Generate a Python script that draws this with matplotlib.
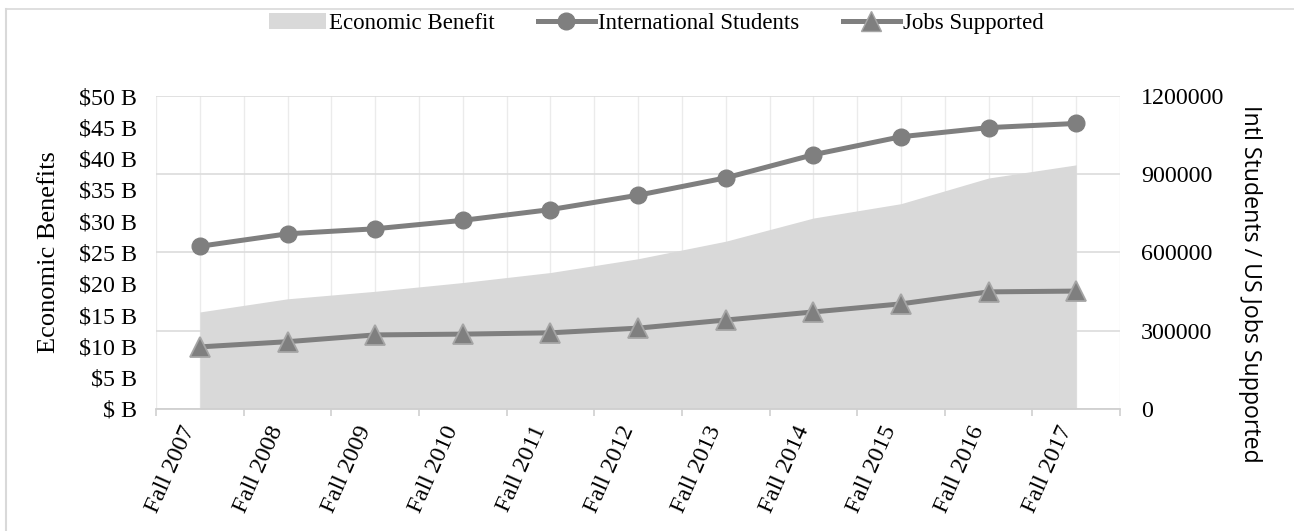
import matplotlib
matplotlib.use("Agg")
import matplotlib.pyplot as plt
import matplotlib.transforms as mtransforms
from matplotlib.lines import Line2D
from matplotlib.patches import Patch
import numpy as np

years = ['Fall 2007', 'Fall 2008', 'Fall 2009', 'Fall 2010', 'Fall 2011', 'Fall 2012',
         'Fall 2013', 'Fall 2014', 'Fall 2015', 'Fall 2016', 'Fall 2017']
econ_benefit = [15.5, 17.6, 18.8, 20.2, 21.8, 24.0, 26.8, 30.5, 32.8, 36.9, 39.0]  # $ billions
intl_students = [623805, 671616, 690923, 723277, 764495, 819644, 886052, 974926, 1043839, 1078822, 1094792]
jobs_supported = [238000, 258000, 284000, 287000, 292000, 310000, 341000, 372000, 403000, 449000, 452000]

econ_ticks = [0, 5, 10, 15, 20, 25, 30, 35, 40, 45, 50]
econ_labels = ['$ B', '$5 B', '$10 B', '$15 B', '$20 B', '$25 B', '$30 B', '$35 B', '$40 B', '$45 B', '$50 B']
count_ticks = [0, 300000, 600000, 900000, 1200000]
count_labels = ['0', '300000', '600000', '900000', '1200000']

serif = 'Liberation Serif'
dark = '#7f7f7f'
fill_c = '#d9d9d9'
fs = 17.3

fig = plt.figure(figsize=(12.94, 5.31), dpi=100)
ax = fig.add_axes([0.1206, 0.2298, 0.745, 0.5894])
ax2 = ax.twinx()

x = np.arange(len(years))
ax.set_xlim(-0.5, len(years) - 0.5)
ax.set_ylim(0, 50)
ax2.set_ylim(0, 1200000)

# light grid: vertical lines at every half category, horizontal at the right-axis ticks
for gx in np.arange(-0.5, len(years), 0.5):
    ax.axvline(gx, color='#ebebeb', lw=1, zorder=0)
for t in count_ticks:
    ax.axhline(t / count_ticks[-1] * econ_ticks[-1], color='#dcdcdc', lw=1.2, zorder=0)

ax.fill_between(x, econ_benefit, 0, color=fill_c, lw=0, zorder=1)

ax2.plot(x, intl_students, color=dark, lw=3.6, marker='o', ms=12,
         markerfacecolor=dark, markeredgecolor=dark, zorder=3)
ax2.plot(x, jobs_supported, color=dark, lw=3.6, marker='^', ms=15,
         markerfacecolor=dark, markeredgecolor='#a5a5a5', markeredgewidth=1.3, zorder=3)

for a in (ax, ax2):
    for s in a.spines.values():
        s.set_visible(False)
ax.spines['bottom'].set_visible(True)
ax.spines['bottom'].set_color('#d0d0d0')
ax.spines['bottom'].set_linewidth(1.3)

ax.set_xticks(x)
ax.set_xticklabels(years, rotation=66, ha='right', va='center',
                   rotation_mode='anchor', fontfamily=serif, fontsize=17.6)
ax.set_xticks(np.arange(-0.5, len(years), 1), minor=True)
ax.tick_params(axis='x', which='major', length=0, pad=13)
ax.tick_params(axis='x', which='minor', length=5, color='#d0d0d0', width=1.2)
shift = mtransforms.ScaledTranslation(-7 / 72, 0, fig.dpi_scale_trans)
for lbl in ax.get_xticklabels():
    lbl.set_transform(lbl.get_transform() + shift)

ax.set_yticks(econ_ticks)
ax.set_yticklabels(econ_labels, fontfamily=serif, fontsize=fs)
ax.tick_params(axis='y', length=0, pad=14)

ax2.set_yticks(count_ticks)
ax2.set_yticklabels(count_labels, fontfamily=serif, fontsize=fs)
ax2.tick_params(axis='y', length=0, pad=15)

ax.set_ylabel('Economic Benefits', fontfamily=serif, fontsize=19)
ax.yaxis.set_label_coords(-0.0996, 0.50)
ax2.set_ylabel('Intl Students / US Jobs Supported', fontfamily='Open Sans',
               fontsize=16.7, rotation=-90, va='center')
ax2.yaxis.set_label_coords(1.135, 0.40)

handles = [
    Patch(facecolor=fill_c, edgecolor='none'),
    Line2D([], [], color=dark, lw=3.6, marker='o', ms=12, markeredgecolor=dark),
    Line2D([], [], color=dark, lw=3.6, marker='^', ms=14, markeredgecolor='#a5a5a5'),
]
fig.legend(handles, ['Economic Benefit', 'International Students', 'Jobs Supported'],
           loc='center', bbox_to_anchor=(0.507, 0.955), ncol=3, frameon=False,
           prop={'family': serif, 'size': 16.5}, handlelength=2.5,
           columnspacing=1.9, handletextpad=0.12)

# outer frame
fig.add_artist(Line2D([0.0045, 1], [0.983, 0.983], transform=fig.transFigure, color='#d9d9d9', lw=1.2))
fig.add_artist(Line2D([0.0045, 0.0045], [0, 0.983], transform=fig.transFigure, color='#d9d9d9', lw=1.5))

fig.savefig('out.png', dpi=100)
